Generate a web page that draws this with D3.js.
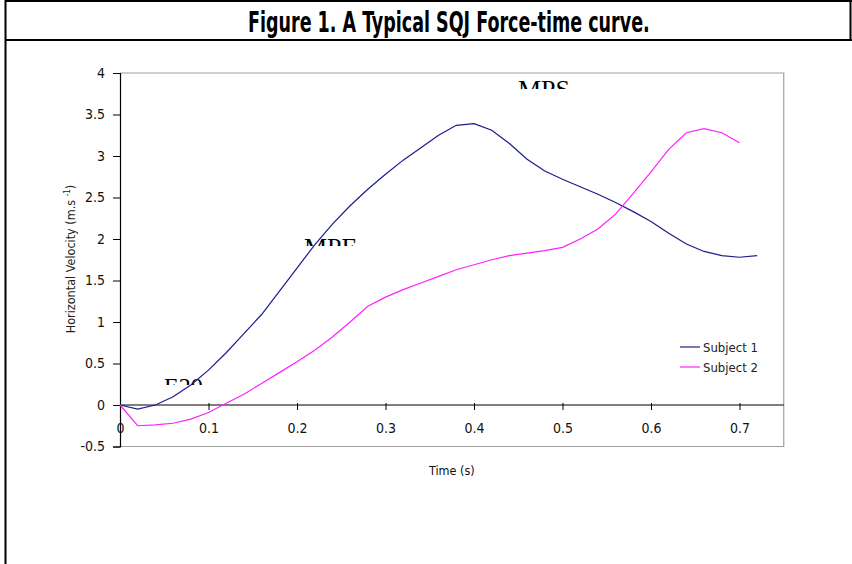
<!DOCTYPE html>
<html>
<head>
<meta charset="utf-8">
<script src="https://cdn.jsdelivr.net/npm/d3@7"></script>
<style>
  body { margin: 0; background: #fff; }
  svg { display: block; }
</style>
</head>
<body>
<svg id="chart"></svg>
<script>
// chart values
const time1 = [0, 0.02, 0.04, 0.06, 0.08, 0.1, 0.12, 0.14, 0.16, 0.18, 0.2, 0.22, 0.24, 0.26, 0.28, 0.3, 0.32, 0.34, 0.36,
  0.38, 0.4, 0.42, 0.44, 0.46, 0.48, 0.5, 0.52, 0.54, 0.56, 0.58, 0.6, 0.62, 0.64, 0.66, 0.68, 0.7, 0.72];
const subject1 = [0, -0.05, 0.0, 0.1, 0.24, 0.42, 0.63, 0.86, 1.09, 1.37, 1.65, 1.93, 2.18, 2.4, 2.6, 2.78, 2.95, 3.1, 3.25,
  3.37, 3.39, 3.31, 3.15, 2.96, 2.82, 2.72, 2.63, 2.54, 2.44, 2.33, 2.21, 2.07, 1.94, 1.85, 1.8, 1.78, 1.8];
const time2 = [0, 0.02, 0.04, 0.06, 0.08, 0.1, 0.12, 0.14, 0.16, 0.18, 0.2, 0.22, 0.24, 0.26, 0.28, 0.3, 0.32, 0.34, 0.36,
  0.38, 0.4, 0.42, 0.44, 0.46, 0.48, 0.5, 0.52, 0.54, 0.56, 0.58, 0.6, 0.62, 0.64, 0.66, 0.68, 0.7];
const subject2 = [0, -0.25, -0.24, -0.22, -0.17, -0.09, 0.02, 0.13, 0.26, 0.39, 0.52, 0.66, 0.82, 1.0, 1.19, 1.3, 1.39, 1.47, 1.55,
  1.63, 1.69, 1.75, 1.8, 1.83, 1.86, 1.9, 2.0, 2.12, 2.3, 2.55, 2.81, 3.08, 3.28, 3.33, 3.28, 3.16];
const seriesNames = ["Subject 1", "Subject 2"];
const xTicks = [0, 0.1, 0.2, 0.3, 0.4, 0.5, 0.6, 0.7];
const yTicks = [-0.5, 0, 0.5, 1, 1.5, 2, 2.5, 3, 3.5, 4];
const notes = ["E20", "MPE", "MPS"];

const width = 852, height = 564;
const narrow = "'Liberation Sans Narrow', 'Arial Narrow', 'DejaVu Sans Condensed', sans-serif";
const colors = ["#1c1c8a", "#ff20ff"];

const svg = d3.select("#chart").attr("width", width).attr("height", height);

// outer frame + title strip
svg.append("line").attr("x1", 5.5).attr("x2", 5.5).attr("y1", 0).attr("y2", height).attr("stroke", "#000").attr("stroke-width", 2);
svg.append("line").attr("x1", 5).attr("x2", width).attr("y1", 1).attr("y2", 1).attr("stroke", "#000").attr("stroke-width", 2);
svg.append("line").attr("x1", 5).attr("x2", width).attr("y1", 40).attr("y2", 40).attr("stroke", "#000").attr("stroke-width", 2);
svg.append("line").attr("x1", 850.5).attr("x2", 850.5).attr("y1", 0).attr("y2", 40).attr("stroke", "#000").attr("stroke-width", 2);

const title = svg.append("text")
  .attr("x", 0).attr("y", 0)
  .attr("font-family", narrow).attr("font-weight", "bold").attr("font-size", 29)
  .attr("fill", "#000")
  .text("Figure 1. A Typical SQJ Force-time curve.");
const tw = title.node().getComputedTextLength();
title.attr("transform", `translate(248,32) scale(${402 / tw},1)`);

const x = d3.scaleLinear().domain([0, 0.75]).range([120, 783.75]);
const y = d3.scaleLinear().domain([-0.5, 4]).range([446.5, 73]);
const fmt = d => String(d);

// plot frame (grey top/right/bottom)
svg.append("path")
  .attr("d", `M${x(0)},${y(4)}H${x(0.75)}V${y(-0.5)}H${x(0)}`)
  .attr("fill", "none").attr("stroke", "#a0a0a0").attr("stroke-width", 1.2);

// y axis
const yAxis = svg.append("g")
  .attr("transform", `translate(${x(0)},0)`)
  .call(d3.axisLeft(y).tickValues(yTicks).tickSize(7).tickPadding(8).tickFormat(fmt));
yAxis.select(".domain").attr("stroke", "#000").attr("stroke-width", 1.2);
yAxis.selectAll("line").attr("stroke", "#000");
yAxis.selectAll("text").attr("font-family", narrow).attr("font-size", 14).attr("fill", "#111");

// x axis on the zero line
const xAxis = svg.append("g")
  .attr("transform", `translate(0,${y(0)})`)
  .call(d3.axisBottom(x).tickValues(xTicks).tickSize(5).tickPadding(13).tickFormat(fmt));
xAxis.select(".domain").attr("stroke", "#000").attr("stroke-width", 1.2).attr("d", `M${x(0)},0H${x(0.75)}`);
xAxis.selectAll("line").attr("stroke", "#000").attr("y1", -2);
xAxis.selectAll("text").attr("font-family", narrow).attr("font-size", 14).attr("fill", "#111");

// axis titles
svg.append("text")
  .attr("x", x(0.375)).attr("y", 475)
  .attr("text-anchor", "middle")
  .attr("font-family", narrow).attr("font-size", 12.5).attr("fill", "#111")
  .text("Time (s)");

const yt = svg.append("text")
  .attr("transform", `translate(75,259) rotate(-90)`)
  .attr("text-anchor", "middle")
  .attr("font-family", narrow).attr("font-size", 12.5).attr("fill", "#222");
yt.append("tspan").text("Horizontal Velocity (m.s  ");
yt.append("tspan").attr("font-size", 8).attr("dy", -5).text("-1");
yt.append("tspan").attr("dy", 5).text(")");

// clipped serif annotations (only the top of the glyphs shows)
const noteLayout = [
  { px: 164, top: 378, cut: 385, size: 24 },
  { px: 304, top: 239, cut: 246, size: 26 },
  { px: 518, top: 81, cut: 89, size: 26 }
];
const defs = svg.append("defs");
notes.forEach((n, i) => {
  const L = noteLayout[i];
  defs.append("clipPath").attr("id", "clip" + i)
    .append("rect").attr("x", L.px - 5).attr("y", L.top - 5).attr("width", 80).attr("height", L.cut - L.top + 5);
  svg.append("text")
    .attr("clip-path", `url(#clip${i})`)
    .attr("x", L.px).attr("y", L.top + L.size * 0.66)
    .attr("font-family", "'Liberation Serif', 'Times New Roman', serif")
    .attr("font-size", L.size).attr("fill", "#000")
    .text(n);
});

// series lines
const line = d3.line().x(d => x(d[0])).y(d => y(d[1]));
const series = [d3.zip(time1, subject1), d3.zip(time2, subject2)];
svg.selectAll(".series")
  .data(series)
  .join("path")
  .attr("class", "series")
  .attr("d", line)
  .attr("fill", "none")
  .attr("stroke", (d, i) => colors[i])
  .attr("stroke-width", 1.2);

// legend
const legend = svg.append("g").attr("transform", "translate(680,347)");
seriesNames.forEach((name, i) => {
  const g = legend.append("g").attr("transform", `translate(0,${i * 20})`);
  g.append("line").attr("x1", 0).attr("x2", 20).attr("y1", 0).attr("y2", 0)
    .attr("stroke", colors[i]).attr("stroke-width", 1.2);
  g.append("text").attr("x", 23).attr("y", 4.5)
    .attr("font-family", narrow).attr("font-size", 13).attr("fill", "#222")
    .text(name);
});
</script>
</body>
</html>
